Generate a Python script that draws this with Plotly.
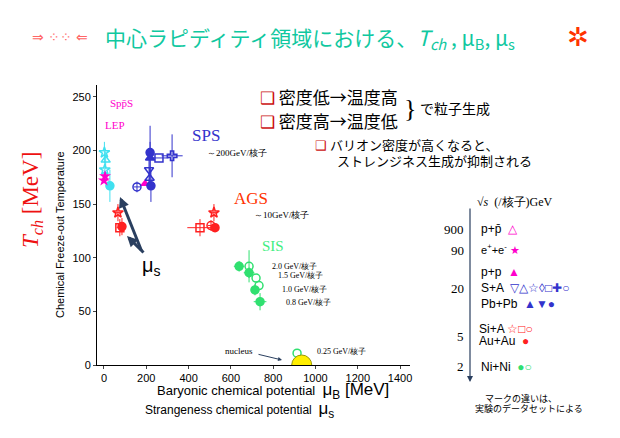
import plotly.graph_objects as go

JP = "Noto Sans CJK JP"
SERIF = "Liberation Serif"

# ---- data (muB [MeV], Tch [MeV]) ----
mag_x = [0, 5, 194]
mag_y = [172, 176, 169]
mag_sym = ["star", "star", "triangle-up"]

cyan_x = [2, 8, 4, 28]
cyan_y = [198, 191, 182, 167]
cyan_sym = ["star-open", "triangle-up-open", "star-open", "circle"]
cyan_ey = [10, 8, 8, 15]

sps_x = [218, 218, 260, 322, 213, 216, 156, 222]
sps_y = [198, 193, 193, 195, 182, 174, 166, 167]
sps_sym = ["circle", "triangle-up", "square-open", "cross-open", "triangle-down-open",
           "triangle-up-open", "circle-open", "circle"]
sps_ex = [0, 0, 45, 50, 0, 0, 15, 0]
sps_ey = [25, 15, 0, 20, 15, 10, 5, 15]

ags_x = [66, 85, 75, 520, 454, 506, 525]
ags_y = [142, 129, 128, 142, 128, 130, 128]
ags_sym = ["star-open", "circle", "square-open", "star-open", "square-open", "circle-open", "circle"]
ags_ex = [20, 10, 15, 20, 60, 15, 0]
ags_ey = [8, 8, 8, 8, 8, 5, 0]

sis_x = [639, 686, 686, 719, 733, 714, 738, 913]
sis_y = [92, 92, 86, 81, 74, 70, 59, 11]
sis_sym = ["circle", "circle-open", "circle", "circle-open", "circle-open", "circle", "circle", "circle-open"]
sis_ex = [25, 0, 25, 0, 0, 20, 30, 0]
sis_ey = [5, 15, 5, 0, 0, 5, 8, 0]

nucleus_x = [935]
nucleus_y = [0]

xticks = [0, 200, 400, 600, 800, 1000, 1200, 1400]
yticks = [0, 50, 100, 150, 200, 250]

fig = go.Figure()
fig.add_trace(go.Scatter(x=cyan_x, y=cyan_y, mode="markers",
    marker=dict(symbol=cyan_sym, size=8, color="#40e0f0", line=dict(width=1.5, color="#40e0f0")),
    error_y=dict(array=cyan_ey, color="#40e0f0", thickness=1, width=0)))
fig.add_trace(go.Scatter(x=mag_x, y=mag_y, mode="markers",
    marker=dict(symbol=mag_sym, size=9, color="#ff00cc")))
fig.add_trace(go.Scatter(x=sps_x, y=sps_y, mode="markers",
    marker=dict(symbol=sps_sym, size=8, color="#3333cc", line=dict(width=1.5, color="#3333cc")),
    error_x=dict(array=sps_ex, color="#3333cc", thickness=1, width=0),
    error_y=dict(array=sps_ey, color="#3333cc", thickness=1, width=0)))
fig.add_trace(go.Scatter(x=ags_x, y=ags_y, mode="markers",
    marker=dict(symbol=ags_sym, size=8, color="#ff2020", line=dict(width=1.5, color="#ff2020")),
    error_x=dict(array=ags_ex, color="#ff2020", thickness=1, width=0),
    error_y=dict(array=ags_ey, color="#ff2020", thickness=1, width=0)))
fig.add_trace(go.Scatter(x=sis_x, y=sis_y, mode="markers",
    marker=dict(symbol=sis_sym, size=8, color="#30e070", line=dict(width=1.5, color="#30e070")),
    error_x=dict(array=sis_ex, color="#30e070", thickness=1, width=0),
    error_y=dict(array=sis_ey, color="#30e070", thickness=1, width=0)))
fig.add_trace(go.Scatter(x=nucleus_x, y=nucleus_y, mode="markers",
    marker=dict(symbol="circle", size=20, color="#ffee00", line=dict(width=1, color="#999900"))))

fig.update_layout(
    width=612, height=430, showlegend=False,
    paper_bgcolor="white", plot_bgcolor="white",
    margin=dict(l=89, r=210, t=77, b=73),
    font=dict(family="Liberation Sans", size=11, color="black"),
    xaxis=dict(range=[-33, 1447], tickvals=xticks, showgrid=False, zeroline=False,
               showline=True, linecolor="black", ticks="outside", ticklen=3,
               tickfont=dict(size=11)),
    yaxis=dict(range=[0, 261], tickvals=yticks, showgrid=False, zeroline=False,
               showline=True, linecolor="black", ticks="outside", ticklen=3,
               tickfont=dict(size=11)),
)

def px(xp, yp):
    return (xp - 97) / 313, (365 - yp) / 280

def txt(xp, yp, s, size=11, color="black", family="Liberation Sans", anchor="left", angle=0):
    x, y = px(xp, yp)
    fig.add_annotation(x=x, y=y, xref="paper", yref="paper", text=s, showarrow=False,
                       xanchor=anchor, yanchor="middle", textangle=angle,
                       font=dict(size=size, color=color, family=family))

def arrow(xp, yp, ax, ay, w=3, head=0.7):
    x, y = px(xp, yp)
    fig.add_annotation(x=x, y=y, xref="paper", yref="paper", ax=ax, ay=ay, showarrow=True,
                       arrowhead=2, arrowsize=head, arrowwidth=w, text="")

# Title
txt(310, 38, "中心ラピディティ領域における、<i>T<sub>ch</sub></i> , μ<sub>B</sub>, μ<sub>s</sub>",
    size=21, color="#10c8a0", family=JP, anchor="center")
txt(30, 37, "⇒ ⁘⁘ ⇐", size=14, color="#ff6666")
txt(578, 37, "✲", size=26, color="#ff3300", anchor="center")

# axis titles
txt(32, 200, "<i>T<sub>ch</sub></i> [MeV]", size=23, color="#ee1111", family=SERIF, anchor="center", angle=-90)
txt(60, 235, "Chemical Freeze-out Temperature", size=11, anchor="center", angle=-90)
txt(155, 391, "Baryonic chemical potential  <span style='font-size:17px'>μ<sub>B</sub> [MeV]</span>", size=13)
txt(143, 410, "Strangeness chemical potential  <span style='font-size:17px'>μ<sub>s</sub></span>", size=12)

# data labels
txt(108, 103, "Spp\u0304S", size=11, color="#ff00cc", family=SERIF)
txt(103, 125, "LEP", size=11, color="#ff00cc", family=SERIF)
txt(190, 135, "SPS", size=17, color="#3333cc", family=SERIF)
txt(205, 153, "～200GeV/核子", size=9, family=SERIF)
txt(232, 198, "AGS", size=17, color="#ff3300", family=SERIF)
txt(252, 215, "～10GeV/核子", size=9, family=SERIF)
txt(260, 246, "SIS", size=15, color="#40ee80", family=SERIF)
txt(270, 266, "2.0 GeV/核子", size=8, family=SERIF)
txt(276, 275, "1.5 GeV/核子", size=8, family=SERIF)
txt(280, 289, "1.0 GeV/核子", size=8, family=SERIF)
txt(284, 302, "0.8 GeV/核子", size=8, family=SERIF)
txt(315, 351, "0.25 GeV/核子", size=8, family=SERIF)
txt(223, 351, "nucleus", size=9, family=SERIF)
arrow(282, 360, -25, -6, w=1, head=0.8)
txt(140, 266, "μ<sub>s</sub>", size=20)
arrow(120, 197, 22, 55)
arrow(127, 236, 18, 18)

# notes
box = "<span style='color:#cc1111'>❑</span> "
txt(258, 97, box + "密度低→温度高", size=17, family=JP)
txt(258, 120, box + "密度高→温度低", size=17, family=JP)
txt(410, 108, "}", size=26, family="Liberation Serif", anchor="center")
txt(418, 108, "で粒子生成", size=14, family=JP)
txt(313, 144, box + "バリオン密度が高くなると、", size=13, family=JP)
txt(335, 160, "ストレンジネス生成が抑制される", size=13, family=JP)

# legend panel
arrow(470, 382, 0, -175, w=1.2, head=1)
txt(475, 202, "√<i>s</i>  (/核子)GeV", size=12, family=SERIF)
txt(466, 229, "900", size=13, family=SERIF, anchor="right")
txt(466, 250, "90", size=13, family=SERIF, anchor="right")
txt(466, 288, "20", size=13, family=SERIF, anchor="right")
txt(466, 336, "5", size=13, family=SERIF, anchor="right")
txt(466, 366, "2", size=13, family=SERIF, anchor="right")
txt(479, 229, "p+p\u0304  <span style='color:#ff00cc'>△</span>", size=12)
txt(479, 249, "e<sup>+</sup>+e<sup>-</sup> <span style='color:#ff00cc'>★</span>", size=11)
txt(479, 272, "p+p  <span style='color:#ff00cc'>▲</span>", size=12)
txt(479, 288, "S+A  <span style='color:#3333cc'>▽△☆◊□✚○</span>", size=12)
txt(479, 304, "Pb+Pb  <span style='color:#3333cc'>▲▼●</span>", size=12)
txt(477, 329, "Si+A <span style='color:#ff2020'>☆□○</span>", size=12)
txt(477, 341, "Au+Au  <span style='color:#ff2020'>●</span>", size=12)
txt(479, 367, "Ni+Ni  <span style='color:#30e070'>●○</span>", size=12)
txt(483, 398, "マークの違いは、", size=9, family=JP)
txt(473, 409, "実験のデータセットによる", size=9, family=JP)

fig.write_html("out.html")
